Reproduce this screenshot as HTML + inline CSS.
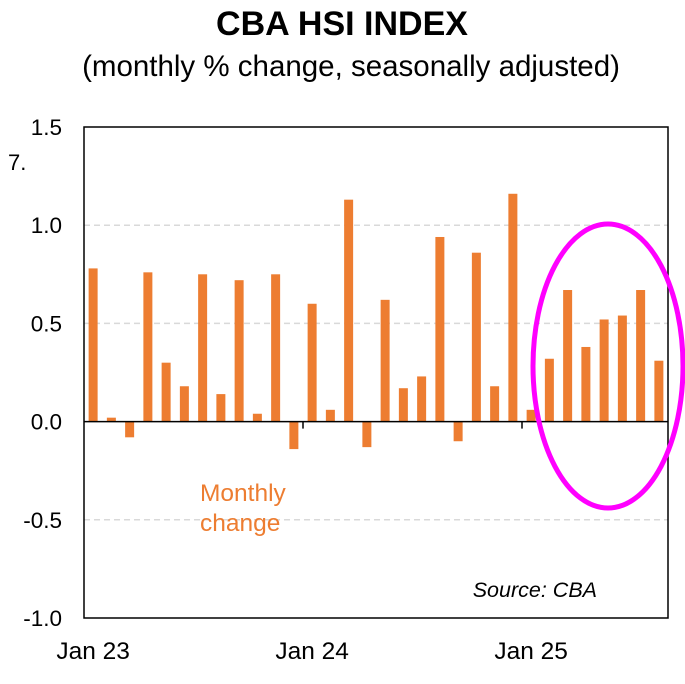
<!DOCTYPE html>
<html><head><meta charset="utf-8"><style>
body{margin:0;background:#fff;width:685px;height:679px;overflow:hidden;font-family:"Liberation Sans",Arial,sans-serif}
</style></head><body>
<svg id="chart" width="685" height="679" xmlns="http://www.w3.org/2000/svg" font-family="Liberation Sans, Arial, sans-serif">
<text x="342" y="35" text-anchor="middle" font-size="34" font-weight="bold">CBA HSI INDEX</text>
<text x="351" y="76" text-anchor="middle" font-size="29.5">(monthly % change, seasonally adjusted)</text>
<text x="8" y="170" font-size="22">7.</text>
<g id="grid"></g>
<g id="bars"></g>
<g id="axes"></g>
<text x="200" y="501" font-size="24.5" fill="#ED7D31">Monthly</text>
<text x="200" y="531" font-size="24.5" fill="#ED7D31">change</text>
<text x="597" y="597" text-anchor="end" font-size="21.5" font-style="italic">Source: CBA</text>
<ellipse cx="608" cy="366" rx="75" ry="142" fill="none" stroke="#FF00FF" stroke-width="5"/>
</svg>
<script>
const values=[0.78,0.02,-0.08,0.76,0.30,0.18,0.75,0.14,0.72,0.04,0.75,-0.14,0.60,0.06,1.13,-0.13,0.62,0.17,0.23,0.94,-0.10,0.86,0.18,1.16,0.06,0.32,0.67,0.38,0.52,0.54,0.67,0.31];
const yTicks=[1.5,1.0,0.5,0.0,-0.5,-1.0];
const yTickLabels=["1.5","1.0","0.5","0.0","-0.5","-1.0"];
const xLabels=["Jan 23","Jan 24","Jan 25"];
const xLabelIdx=[0,12,24];
const ns="http://www.w3.org/2000/svg";
const L=84,R=668,T=127,B=618,yMax=1.5,yMin=-1.0;
const n=values.length,step=(R-L)/n;
const y=v=>T+(yMax-v)/(yMax-yMin)*(B-T);
const xc=i=>L+step*(i+0.5);
function mk(tag,a,p){const e=document.createElementNS(ns,tag);for(const k in a)e.setAttribute(k,a[k]);p.appendChild(e);return e;}
const g=document.getElementById('grid'),bg=document.getElementById('bars'),ax=document.getElementById('axes');
yTicks.forEach((t,i)=>{
 if(t!==0&&t!==yMax&&t!==yMin){const l=mk('line',{x1:L,x2:R,y1:y(t),y2:y(t),stroke:'#d9d9d9','stroke-width':1.5,'stroke-dasharray':'6,4'},g);
 
 }
 const tx=mk('text',{x:62,y:y(t)+8,'text-anchor':'end','font-size':22.5},ax);tx.textContent=yTickLabels[i];
 
 
});
values.forEach((v,i)=>{
 const r=mk('rect',{x:xc(i)-4.5,width:9,y:Math.min(y(v),y(0)),height:Math.abs(y(v)-y(0)),fill:'#ED7D31'},bg);
 
 
});
const fr=mk('rect',{x:L,y:T,width:R-L,height:B-T,fill:'none',stroke:'#000','stroke-width':1.5},ax);


const z=mk('line',{x1:L,x2:R,y1:y(0),y2:y(0),stroke:'#000','stroke-width':1.5},ax);


xLabelIdx.forEach((idx,i)=>{
 if(idx>0){const tk=mk('line',{x1:L+step*idx,x2:L+step*idx,y1:y(0),y2:y(0)+7,stroke:'#000','stroke-width':1.5},ax);
 
 }
 const tx=mk('text',{x:xc(idx),y:659,'text-anchor':'middle','font-size':24.5},ax);tx.textContent=xLabels[i];
 
 
});
</script>
</body></html>
